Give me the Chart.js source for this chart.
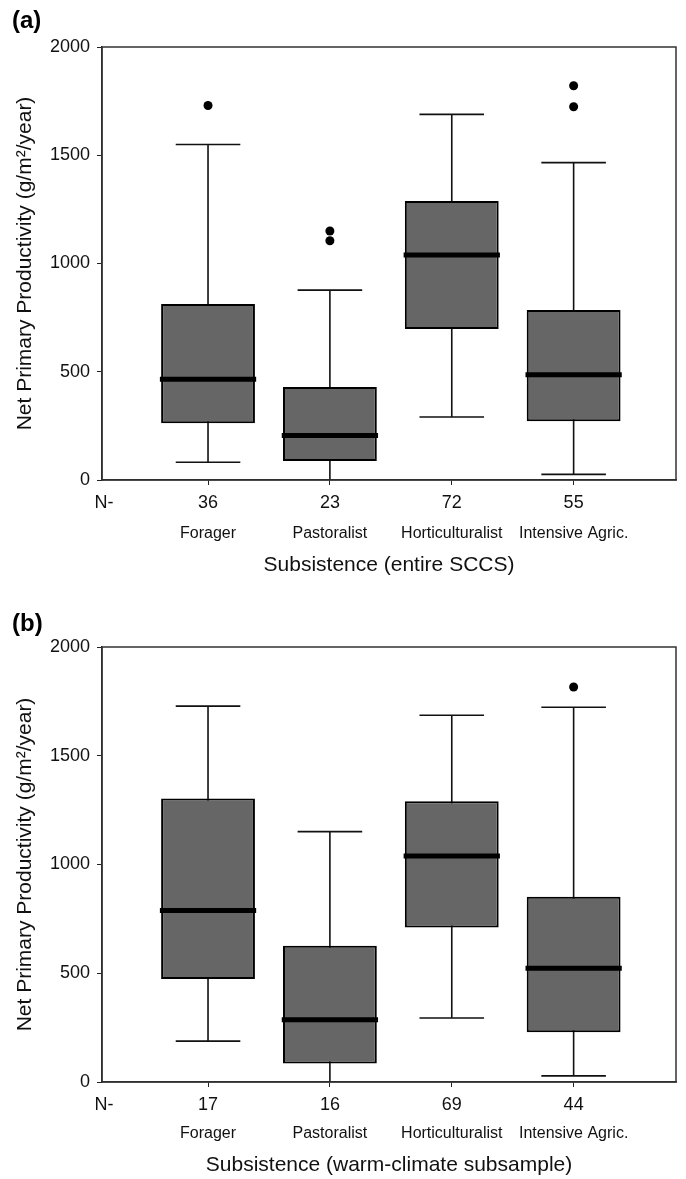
<!DOCTYPE html>
<html>
<head>
<meta charset="utf-8">
<script src="https://cdn.jsdelivr.net/npm/chart.js@4.4.0/dist/chart.umd.min.js"></script>
<style>
  html, body { margin: 0; padding: 0; background: #fff; }
  #wrap { position: relative; width: 686px; height: 1179px; }
  canvas { position: absolute; left: 0; }
</style>
</head>
<body>
<div id="wrap">
  <canvas id="chartA" width="686" height="590" style="top:0px"></canvas>
  <canvas id="chartB" width="686" height="589" style="top:590px"></canvas>
</div>
<script>
// categories and positions on the x axis
const categories = ['Forager', 'Pastoralist', 'Horticulturalist', 'Intensive Agric.'];
const xPositions = [1, 2, 3, 4];
const yTicks = [0, 500, 1000, 1500, 2000];

// (a) entire SCCS
const nA = [36, 23, 72, 55];
const lowA = [82, 0, 291, 26];
const q1A = [262, 88, 697, 271];
const medA = [465, 206, 1039, 486];
const q3A = [813, 430, 1289, 785];
const highA = [1550, 877, 1689, 1466];
const outliersA = [[1, 1730], [2, 1150], [2, 1105], [4, 1821], [4, 1724]];

// (b) warm-climate subsample
const nB = [17, 16, 69, 44];
const lowB = [188, 0, 294, 28];
const q1B = [473, 85, 710, 229];
const medB = [788, 286, 1039, 523];
const q3B = [1304, 627, 1291, 852];
const highB = [1728, 1151, 1686, 1723];
const outliersB = [[4, 1816]];

const FONT = '"Liberation Sans", Arial, sans-serif';

function boxExtras(stats) {
  return {
    id: 'boxExtras',
    beforeDatasetsDraw(chart) {
      const { ctx, scales: { x, y } } = chart;
      ctx.save();
      ctx.strokeStyle = '#111';
      ctx.lineWidth = 1.6;
      xPositions.forEach((p, i) => {
        const cx = x.getPixelForValue(p);
        const half = x.getPixelForValue(p + 0.265) - cx;
        const yl = y.getPixelForValue(stats.low[i]);
        const yh = y.getPixelForValue(stats.high[i]);
        ctx.beginPath();
        ctx.moveTo(cx, yl); ctx.lineTo(cx, yh);
        ctx.moveTo(cx - half, yh); ctx.lineTo(cx + half, yh);
        if (stats.low[i] > 0) { ctx.moveTo(cx - half, yl); ctx.lineTo(cx + half, yl); }
        ctx.stroke();
      });
      ctx.restore();
    },
    afterDatasetsDraw(chart) {
      const { ctx, chartArea: a, scales: { x, y } } = chart;
      ctx.save();
      // medians
      ctx.strokeStyle = '#000';
      ctx.lineWidth = 5;
      xPositions.forEach((p, i) => {
        const l = x.getPixelForValue(p - 0.395);
        const r = x.getPixelForValue(p + 0.395);
        const ym = y.getPixelForValue(stats.med[i]);
        ctx.beginPath(); ctx.moveTo(l, ym); ctx.lineTo(r, ym); ctx.stroke();
      });
      // frame
      ctx.strokeStyle = '#333';
      ctx.lineWidth = 1.5;
      ctx.strokeRect(a.left, a.top, a.right - a.left, a.bottom - a.top);
      // N- and category names
      ctx.fillStyle = '#111';
      ctx.textAlign = 'center';
      ctx.textBaseline = 'middle';
      ctx.font = '18px ' + FONT;
      ctx.fillText('N-', a.left + 2, a.bottom + stats.nOffset);
      ctx.font = '16px ' + FONT;
      xPositions.forEach((p, i) => {
        ctx.fillText(categories[i], x.getPixelForValue(p), a.bottom + stats.nameOffset);
      });
      ctx.restore();
    }
  };
}

function makeChart(id, opt) {
  const canvasH = document.getElementById(id).height;
  return new Chart(document.getElementById(id), {
    type: 'bar',
    data: {
      datasets: [
        {
          type: 'bar',
          data: xPositions.map((p, i) => ({ x: p, y: [opt.q1[i], opt.q3[i]] })),
          backgroundColor: '#666666',
          borderColor: '#000',
          borderWidth: 2,
          borderSkipped: false,
          barPercentage: 0.77,
          categoryPercentage: 1
        },
        {
          type: 'scatter',
          data: opt.outliers.map(([p, v]) => ({ x: p, y: v })),
          backgroundColor: '#000',
          borderWidth: 0,
          pointRadius: 4.5
        }
      ]
    },
    options: {
      responsive: false,
      animation: false,
      layout: { padding: { left: 12, right: 10, top: 0, bottom: 0 } },
      plugins: {
        legend: { display: false },
        tooltip: { enabled: false },
        title: {
          display: true,
          text: opt.label,
          align: 'start',
          color: '#000',
          font: { family: FONT, size: 24, weight: 'bold' },
          padding: { top: opt.titleTop, bottom: opt.titleBottom }
        }
      },
      scales: {
        x: {
          type: 'linear',
          min: 0.13,
          max: 4.84,
          offset: false,
          afterBuildTicks: s => { s.ticks = xPositions.map(v => ({ value: v })); },
          afterFit: s => { s.height = canvasH - opt.bottom; },
          ticks: {
            autoSkip: false,
            maxRotation: 0,
            padding: 7,
            color: '#111',
            font: { family: FONT, size: 18 },
            callback: (v, i) => String(opt.n[i])
          },
          grid: { drawOnChartArea: false, drawTicks: true, tickLength: 5, color: '#222', offset: false },
          border: { display: true, color: '#222', width: 1.5 },
          title: {
            display: true,
            text: opt.xTitle,
            color: '#111',
            font: { family: FONT, size: 21 },
            padding: { top: 0, bottom: opt.xTitleBottom }
          }
        },
        y: {
          min: 0,
          max: 2000,
          afterBuildTicks: s => { s.ticks = yTicks.map(v => ({ value: v })); },
          afterFit: s => { s.width = 90; },
          ticks: {
            padding: 7,
            color: '#111',
            font: { family: FONT, size: 18 },
            callback: v => String(v)
          },
          grid: { drawOnChartArea: false, drawTicks: true, tickLength: 5, color: '#222' },
          border: { display: true, color: '#222', width: 1.5 },
          title: {
            display: true,
            text: 'Net Primary Productivity (g/m\u00b2/year)',
            color: '#111',
            font: { family: FONT, size: 21 },
            padding: { top: 1, bottom: 0 }
          }
        }
      }
    },
    plugins: [boxExtras(opt)]
  });
}

makeChart('chartA', {
  label: '(a)', titleTop: 7, titleBottom: 11.2, bottom: 480,
  q1: q1A, q3: q3A, low: lowA, high: highA, med: medA, n: nA, outliers: outliersA,
  xTitle: 'Subsistence (entire SCCS)', xTitleBottom: 12.4, nOffset: 23, nameOffset: 54
});

makeChart('chartB', {
  label: '(b)', titleTop: 19.6, titleBottom: 8.6, bottom: 492,
  q1: q1B, q3: q3B, low: lowB, high: highB, med: medB, n: nB, outliers: outliersB,
  xTitle: 'Subsistence (warm-climate subsample)', xTitleBottom: 1.4, nOffset: 23, nameOffset: 52
});
</script>
</body>
</html>
